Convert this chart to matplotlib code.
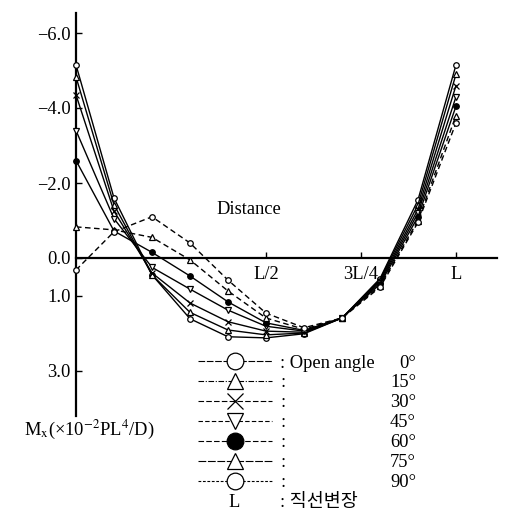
import matplotlib
matplotlib.use("Agg")
import matplotlib.pyplot as plt
from matplotlib.lines import Line2D
from matplotlib.font_manager import FontProperties
import numpy as np

plt.rcParams['font.family'] = ['Liberation Serif', 'Noto Sans CJK KR', 'DejaVu Sans']
plt.rcParams['mathtext.fontset'] = 'stix'

# ---- data ----
x_pos = [0.0, 0.1, 0.2, 0.3, 0.4, 0.5, 0.6, 0.7, 0.8, 0.9, 1.0]
angles = ["0°", "15°", "30°", "45°", "60°", "75°", "90°"]
m_0  = [-5.15, -1.60, 0.45, 1.62, 2.10, 2.13, 2.02, 1.60, 0.55, -1.55, -5.15]
m_15 = [-4.83, -1.42, 0.45, 1.45, 1.92, 2.05, 2.00, 1.60, 0.58, -1.42, -4.90]
m_30 = [-4.35, -1.25, 0.40, 1.20, 1.70, 1.95, 1.98, 1.60, 0.62, -1.30, -4.60]
m_45 = [-3.40, -1.05, 0.25, 0.83, 1.39, 1.82, 1.95, 1.60, 0.66, -1.20, -4.30]
m_60 = [-2.60, -0.72, -0.15, 0.48, 1.17, 1.73, 1.93, 1.60, 0.70, -1.10, -4.05]
m_75 = [-0.83, -0.75, -0.55, 0.05, 0.88, 1.60, 1.90, 1.60, 0.74, -1.00, -3.80]
m_90 = [0.32, -0.70, -1.10, -0.40, 0.59, 1.47, 1.86, 1.60, 0.78, -0.95, -3.60]
series = [m_0, m_15, m_30, m_45, m_60, m_75, m_90]

x_ticks = [0.5, 0.75, 1.0]
x_ticklabels = ["L/2", "3L/4", "L"]
y_ticks = [-6, -4, -2, 0, 1, 3]
y_ticklabels = ["\u22126.0", "\u22124.0", "\u22122.0", "0.0", "1.0", "3.0"]

# ---- styles ----
markers = ['o', '^', 'x', 'v', 'o', '^', 'o']
faces = ['white', 'white', 'black', 'white', 'black', 'white', 'white']
styles = ['-', '-', '-', '-', '-', '--', '--']
legend_dashes = [(6, 1.5), (5, 1.5, 1, 1.5), (5, 2), (4, 2), (5, 2), (7, 1.5), (2.5, 1.5)]

FS = 13.3
W, H = 508, 520
fig = plt.figure(figsize=(W / 100, H / 100), dpi=100)
ax = fig.add_axes([0, 0, 1, 1])
ax.set_xlim(-76 / 380, 432 / 380)
ax.set_ylim(262 / 37.5, -258 / 37.5)

for ys, mk, fc, ls in zip(series, markers, faces, styles):
    ax.plot(x_pos, ys, linestyle=ls, color='black', linewidth=1.0,
            marker=mk, markersize=4, markerfacecolor=fc, markeredgecolor='black',
            markeredgewidth=0.9, dashes=(4, 2.5) if ls == '--' else (None, None),
            zorder=3)

for s in ['top', 'right']:
    ax.spines[s].set_visible(False)
ax.spines['left'].set_position(('data', 0))
ax.spines['bottom'].set_position(('data', 0))
ax.spines['left'].set_bounds(-6.53, 4.2)
ax.spines['bottom'].set_bounds(0, 1.108)
ax.spines['left'].set_linewidth(1.6)
ax.spines['bottom'].set_linewidth(1.6)
ax.set_xticks(x_ticks)
ax.set_xticklabels(x_ticklabels)
ax.set_yticks(y_ticks)
ax.set_yticklabels(y_ticklabels)
ax.tick_params(axis='both', direction='in', length=4, width=1.0, labelsize=FS)
ax.tick_params(axis='x', pad=6)
ax.tick_params(axis='y', pad=4)
ax.set_facecolor('white')

ax.text(0.490, 0.598, "Distance", transform=ax.transAxes, ha='center', va='center', fontsize=FS)
ax.text(0.175, 0.172, r"M$_{\mathrm{x}}$(×10$^{-2}$PL$^{4}$/D)", transform=ax.transAxes,
        ha='center', va='center', fontsize=FS)

# ---- legend ----
handles = []
for mk, fc, dsh in zip(markers, faces, legend_dashes):
    handles.append(Line2D([], [], color='black', linewidth=0.8, dashes=dsh,
                          marker=mk, markersize=12, markerfacecolor=fc,
                          markeredgecolor='black', markeredgewidth=0.9))
handles.append(Line2D([], [], linestyle='none'))
labels = [": Open angle"] + [":"] * 6 + [": 직선변장"]
leg = ax.legend(handles, labels, loc='upper left',
                bbox_to_anchor=(198 / W, 1 - 354.5 / H), bbox_transform=fig.transFigure,
                frameon=False, fontsize=FS, handlelength=4.0, handletextpad=0.45,
                labelspacing=0.16, borderpad=0, borderaxespad=0,
                prop=FontProperties(family=['Liberation Serif', 'Noto Sans CJK KR'], size=FS))

fig.canvas.draw()
renderer = fig.canvas.get_renderer()
for i, t in enumerate(leg.get_texts()):
    bb = t.get_window_extent(renderer)
    yc = (bb.y0 + bb.y1) / 2
    if i < len(angles):
        fig.text(416 / W, yc / H, angles[i], ha='right', va='center', fontsize=FS)
    else:
        fig.text(234 / W, yc / H, "L", ha='center', va='center', fontsize=FS)

fig.savefig("out.png", dpi=100, facecolor='white')
